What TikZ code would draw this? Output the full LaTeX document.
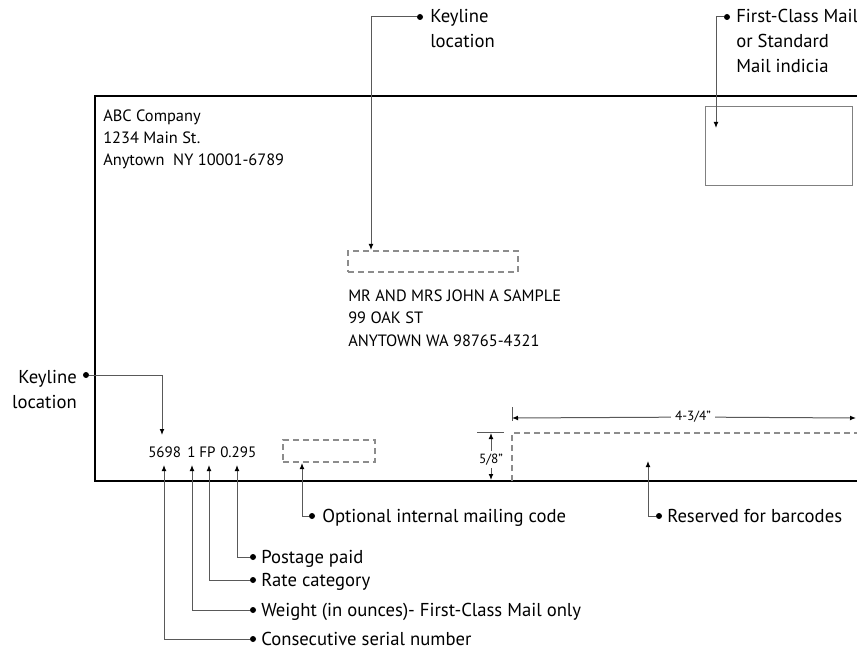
\documentclass[tikz,border=0pt]{standalone}
\usepackage{fontspec}
\setmainfont{PT Sans}
\usetikzlibrary{arrows.meta,fit}
\begin{document}
\begin{tikzpicture}[x=0.75pt,y=-0.75pt,
  lbl/.style={inner sep=0pt, font=\fontsize{14}{16}\selectfont, anchor=base west},
  lblr/.style={inner sep=0pt, font=\fontsize{14}{16}\selectfont, anchor=base east},
  addr/.style={inner sep=0pt, font=\fontsize{12.3}{14}\selectfont, anchor=base west},
  num/.style={inner sep=0pt, font=\fontsize{11.3}{13}\selectfont, anchor=base west},
  dimtxt/.style={inner sep=0pt, font=\fontsize{10}{12}\selectfont, anchor=base},
  dotn/.style={circle, fill=black, inner sep=0pt, minimum size=4.5pt},
  conn/.style={draw=black!65, line width=0.75pt},
  arr/.style={conn, -{Latex[length=4.5pt,width=3.6pt,color=black]}},
  dbox/.style={draw=black!45, line width=0.9pt, dash pattern=on 4.5pt off 3pt},
  env/.style={draw=black, line width=1.8pt},
]
\useasboundingbox (0,0) rectangle (857,652);

% envelope
\draw[env] (858,96) -- (95,96) -- (95,481) -- (858,481);

% indicia box
\node[fit={(705,106) (852,185)}, inner sep=0pt, draw=black!50, line width=0.6pt] (indbox) {};

% return address
\node[addr] (ra1) at (103,122) {ABC Company};
\node[addr] (ra2) at (103,144) {1234 Main St.};
\node[addr] (ra3) at (103,166) {Anytown\ \ NY 10001-6789};

% keyline box and recipient
\node[fit={(348,251) (518,272)}, inner sep=0pt, dbox] (kbox) {};
\node[addr] (rc1) at (348,302) {MR AND MRS JOHN A SAMPLE};
\node[addr] (rc2) at (348,324) {99 OAK ST};
\node[addr] (rc3) at (348,347) {ANYTOWN WA 98765-4321};

% top keyline callout
\node[dotn] (kdot1) at (420,17) {};
\node[lbl] (kl1a) at (430,23) {Keyline};
\node[lbl] (kl1b) at (430,48) {location};
\coordinate (kt1) at (371,250);
\draw[arr] (kdot1) -| (kt1);

% indicia callout
\node[dotn] (idot) at (727,17) {};
\node[lbl] (il1) at (736,23) {First-Class Mail};
\node[lbl] (il2) at (736,48) {or Standard};
\node[lbl] (il3) at (736,73) {Mail indicia};
\coordinate (it) at (716,128);
\draw[arr] (idot) -| (it);

% left keyline callout
\node[lblr] (kl2a) at (77,383) {Keyline};
\node[lblr] (kl2b) at (77,408) {location};
\node[dotn] (kdot2) at (86,375) {};
\coordinate (kt2) at (162,435);
\draw[arr] (kdot2) -| (kt2);

% keyline numbers
\node[num] (n1) at (148,457) {5698};
\node[num] (n2) at (187,457) {1};
\node[num] (n3) at (199,457) {FP};
\node[num] (n4) at (220,457) {0.295};

% optional internal mailing code box
\node[fit={(283,440) (375,462)}, inner sep=0pt, dbox] (obox) {};

% barcode clear zone
\draw[dbox] (512,481) -- (512,433) -- (858,433);
\draw[conn] (512,407) -- (512,421);
\node[dimtxt, fill=white, inner xsep=3pt, inner ysep=1pt] (w434) at (693,421) {4-3/4"};
\draw[conn, {Latex[length=4.5pt,width=3.6pt,color=black]}-] (512,418) -- (w434.west);
\draw[conn, -{Latex[length=4.5pt,width=3.6pt,color=black]}] (w434.east) -- (856,418);

% 5/8 dimension
\draw[conn] (477,432) -- (504,432);
\node[dimtxt, inner ysep=2pt] (h58) at (491,463) {5/8"};
\draw[arr] (h58.north) -- (491,433);
\draw[arr] (h58.south) -- (491,480);

% bottom callouts
\coordinate (t1) at (164,465);
\coordinate (t2) at (192,465);
\coordinate (t3) at (209,465);
\coordinate (t4) at (237,465);
\coordinate (to) at (302,463);
\coordinate (tr) at (648,461);

\node[dotn] (dopt) at (312,516) {};
\node[lbl] (lopt) at (322,522) {Optional internal mailing code};
\draw[arr] (dopt) -| (to);

\node[dotn] (dres) at (659,516) {};
\node[lbl] (lres) at (667,522) {Reserved for barcodes};
\draw[arr] (dres) -| (tr);

\node[dotn] (dpost) at (253,557) {};
\node[lbl] (lpost) at (261,563) {Postage paid};
\draw[arr] (dpost) -| (t4);

\node[dotn] (drate) at (253,580) {};
\node[lbl] (lrate) at (261,586) {Rate category};
\draw[arr] (drate) -| (t3);

\node[dotn] (dwt) at (253,610) {};
\node[lbl] (lwt) at (261,616) {Weight (in ounces)- First-Class Mail only};
\draw[arr] (dwt) -| (t2);

\node[dotn] (dser) at (253,639) {};
\node[lbl] (lser) at (261,645) {Consecutive serial number};
\draw[arr] (dser) -| (t1);

\end{tikzpicture}
\end{document}
